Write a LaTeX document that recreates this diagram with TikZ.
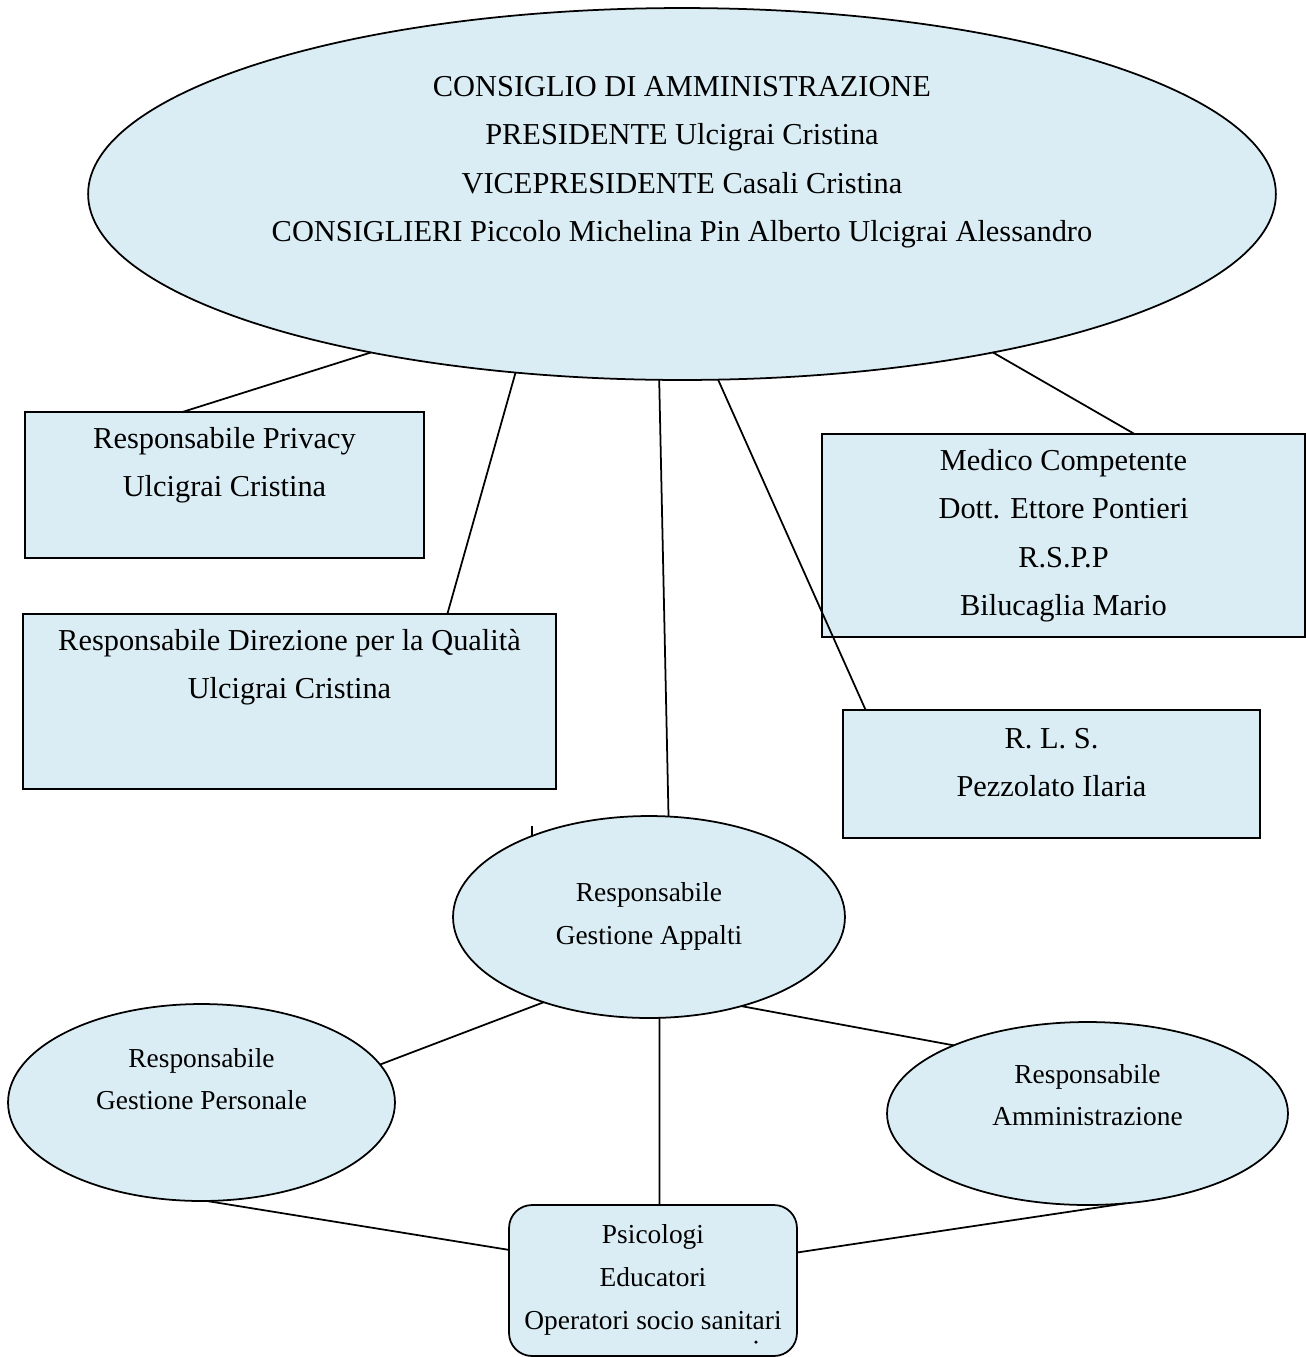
\documentclass[tikz,border=0pt]{standalone}
\usepackage{fontspec}
\setmainfont{Liberation Serif}
\usetikzlibrary{shapes.geometric}
\definecolor{paleblue}{RGB}{219,237,244}

\begin{document}
\begin{tikzpicture}[x=0.02cm,y=-0.02cm,line width=1pt,every node/.style = {inner sep=0pt, outer sep=0pt}]
		\tikzset{
			box/.style = { draw, fill=paleblue, rectangle },
			oval/.style = { draw, fill=paleblue, ellipse },
			bigtext/.style = { align=center, font=\fontsize{17.3pt}{27.6pt}\selectfont },
			smalltext/.style = { align=center, font=\fontsize{15.6pt}{24.3pt}\selectfont },
		}
		\useasboundingbox (0,0) rectangle (1306,1357);
		% shapes
		\node[oval, minimum width=23.76cm, minimum height=7.44cm] (cda) at (682,194) {};
		\node[box, minimum width=7.98cm, minimum height=2.92cm] (priv) at (224.5,485) {};
		\node[box, minimum width=10.66cm, minimum height=3.5cm] (qual) at (289.5,701.5) {};
		\node[box, minimum width=9.66cm, minimum height=4.06cm] (med) at (1063.5,535.5) {};
		\node[box, minimum width=8.34cm, minimum height=2.56cm] (rls) at (1051.5,774) {};
		\node[oval, minimum width=7.84cm, minimum height=4.04cm] (app) at (649,917) {};
		\node[oval, minimum width=7.74cm, minimum height=3.94cm] (pers) at (201.5,1102.5) {};
		\node[oval, minimum width=8.02cm, minimum height=3.66cm] (amm) at (1087.5,1113.5) {};
		\node[box, rounded corners=0.46cm, minimum width=5.76cm, minimum height=3.02cm] (psi) at (653,1280.5) {};
		% texts
		\node[bigtext] (cdatxt) at (682,162) { CONSIGLIO DI AMMINISTRAZIONE \\ PRESIDENTE Ulcigrai Cristina \\ VICEPRESIDENTE Casali Cristina \\ CONSIGLIERI Piccolo Michelina Pin Alberto Ulcigrai Alessandro };
		\node[bigtext] (privtxt) at (224.5,465) { Responsabile Privacy \\ Ulcigrai Cristina };
		\node[bigtext] (qualtxt) at (289.5,667) { Responsabile Direzione per la Qualità \\ Ulcigrai Cristina };
		\node[bigtext] (medtxt) at (1063.5,535.5) { Medico Competente \\ Dott. Ettore Pontieri \\ R.S.P.P \\ Bilucaglia Mario };
		\node[bigtext] (rlstxt) at (1051.5,762.5) { R. L. S. \\ Pezzolato Ilaria };
		\node[smalltext] (apptxt) at (649,916.5) { Responsabile \\ Gestione Appalti };
		\node[smalltext] (perstxt) at (201.5,1079) { Responsabile \\ Gestione Personale };
		\node[smalltext] (ammtxt) at (1087.5,1095) { Responsabile \\ Amministrazione };
		\node[smalltext] (psitxt) at (653,1280) { Psicologi \\ Educatori \\ Operatori socio sanitari };
		\coordinate (tick) at (532,826);
		% connectors
		\draw (cda.207) -- (priv.120);
		\draw (cda.227) -- (qual.29.5);
		\draw (cda.263) -- (app.79);
		\draw (cda.281) -- (rls.161);
		\draw (cda.333) -- (med.55);
		\draw (tick) -- (tick |- app.145);
		\draw (app.219) -- (pers.12);
		\draw (app.316) -- (amm.153);
		\draw (app.276) -- (psi.85.5);
		\draw (pers.273) -- (psi.168.4);
		\draw (amm.293) -- (psi.11.6);
		\fill (756,1342) circle[radius=1pt];
\end{tikzpicture}
\end{document}
